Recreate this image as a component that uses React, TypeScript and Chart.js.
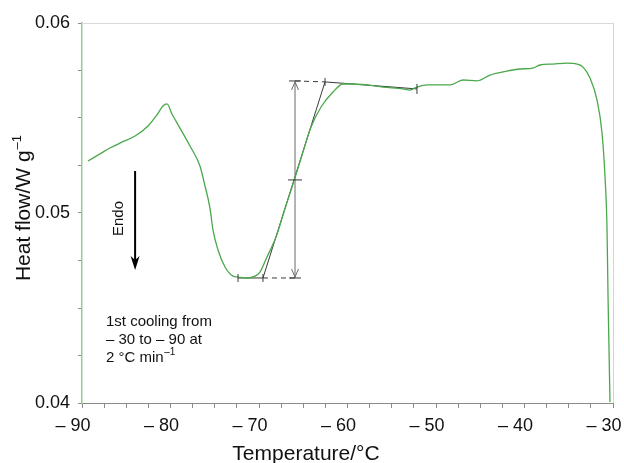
import React, { useEffect, useRef } from "react";
import { Chart, registerables } from "chart.js";

Chart.register(...registerables);

// Heat-flow curve (1st cooling)
const temperature = [
  -89.32, -87.97, -86.84, -85.71, -84.01, -82.54, -81.53, -80.85, -80.4, -79.83,
  -78.93, -77.8, -76.67, -76.1, -75.54, -75.2, -74.63, -73.84, -72.94,
  -72.37, -71.36, -70.45, -69.89, -69.1, -68.08, -67.11, -66.27, -65.31, -64.12,
  -62.99, -61.64, -60.51, -59.72, -57.8, -55.99, -53.73, -52.94, -52.37, -51.02,
  -48.42, -46.95, -45.37, -43.9, -41.98, -40.51, -39.04, -38.25, -36.78, -35.2,
  -34.07, -33.39, -32.6, -31.81, -31.24, -30.9, -30.68, -30.56, -30.45, -30.34,
];
const heatFlow = [
  0.05274, 0.05311, 0.05342, 0.05368, 0.05405, 0.05458, 0.05516, 0.05563, 0.05574, 0.05521,
  0.05447, 0.05353, 0.05247, 0.05142, 0.05026, 0.04911, 0.04805, 0.04716, 0.04668,
  0.04663, 0.04658, 0.04668, 0.04689, 0.04768, 0.04874, 0.05016, 0.05137, 0.05279, 0.05453,
  0.05558, 0.05637, 0.05679, 0.05679, 0.05674, 0.05663, 0.05653, 0.05647, 0.05658, 0.05674,
  0.05674, 0.057, 0.05695, 0.05726, 0.05747, 0.05758, 0.05763, 0.05779, 0.05784, 0.05789,
  0.05784, 0.05768, 0.05711, 0.05595, 0.05421, 0.05189, 0.04926, 0.04558, 0.04279, 0.04005,
];

// Glass-transition construction
const topBaseX = [-65.93, -62.54, -52.15];
const topBaseY = [0.05695, 0.0569, 0.05653];
const bottomBaseX = [-72.37, -69.55, -65.93];
const bottomBaseY = [0.04658, 0.04658, 0.04658];
const tangentX = [-69.55, -62.54];
const tangentY = [0.04658, 0.0569];
const stepX = [-65.93, -65.93];
const stepY = [0.04658, 0.05695];
const midPointX = -65.93;
const midPointY = 0.05174;

// "Endo" arrow (data coordinates)
const endoArrowX = -84.0;
const endoArrowY = [0.05221, 0.047];

// Axis ticks
const xMin = -90, xMax = -30, xStep = 2.5, xLabelEvery = 10;
const yMin = 0.04, yMax = 0.06, yStep = 0.0025;

const FONT = "'Liberation Sans', Arial, Helvetica, sans-serif";

const pts = (xs: number[], ys: number[]) => xs.map((x, i) => ({ x, y: ys[i] }));

export default function App() {
  const ref = useRef<HTMLCanvasElement>(null);

  useEffect(() => {
    const canvas = ref.current!;
    const dark = "#3a3a3a";

    const annot = {
      id: "annot",
      beforeDatasetsDraw(chart: any) {
        const { ctx, chartArea: a } = chart;
        ctx.save();
        ctx.lineWidth = 1;
        ctx.strokeStyle = "#d9d9d9";
        ctx.beginPath();
        ctx.moveTo(a.left, a.top + 0.5);
        ctx.lineTo(a.right, a.top + 0.5);
        ctx.stroke();
        ctx.strokeStyle = "#c9dcc9";
        ctx.beginPath();
        ctx.moveTo(a.right + 0.5, a.top);
        ctx.lineTo(a.right + 0.5, a.bottom);
        ctx.stroke();
        ctx.restore();
      },
      afterDatasetsDraw(chart: any) {
        const { ctx } = chart;
        const xs = chart.scales.x, ys = chart.scales.y;
        const px = (v: number) => xs.getPixelForValue(v);
        const py = (v: number) => ys.getPixelForValue(v);
        ctx.save();

        // cross ticks
        ctx.strokeStyle = dark;
        ctx.lineWidth = 1;
        const hTick = (x: number, y: number, h: number) => {
          ctx.beginPath();
          ctx.moveTo(px(x) - h, py(y));
          ctx.lineTo(px(x) + h, py(y));
          ctx.stroke();
        };
        const vTick = (x: number, y: number, h: number) => {
          ctx.beginPath();
          ctx.moveTo(px(x), py(y) - h);
          ctx.lineTo(px(x), py(y) + h);
          ctx.stroke();
        };
        hTick(stepX[0], stepY[1], 6);
        hTick(midPointX, midPointY, 7);
        hTick(stepX[0], stepY[0], 6);
        vTick(topBaseX[1], topBaseY[1], 4);
        vTick(topBaseX[2], topBaseY[2], 5);
        vTick(bottomBaseX[0], bottomBaseY[0], 4);
        vTick(bottomBaseX[1], bottomBaseY[1], 4);

        // open arrowheads on the step arrow
        ctx.strokeStyle = "#6a6a6a";
        const sx = px(stepX[0]);
        const sTop = py(stepY[1]), sBot = py(stepY[0]);
        ctx.beginPath();
        ctx.moveTo(sx - 3.5, sTop + 9);
        ctx.lineTo(sx, sTop + 1);
        ctx.lineTo(sx + 3.5, sTop + 9);
        ctx.moveTo(sx - 3.5, sBot - 9);
        ctx.lineTo(sx, sBot - 1);
        ctx.lineTo(sx + 3.5, sBot - 9);
        ctx.stroke();

        // Endo arrow
        const ex = px(endoArrowX);
        const e0 = py(endoArrowY[0]), e1 = py(endoArrowY[1]);
        ctx.strokeStyle = "#000";
        ctx.fillStyle = "#000";
        ctx.lineWidth = 2;
        ctx.beginPath();
        ctx.moveTo(ex, e0);
        ctx.lineTo(ex, e1 - 8);
        ctx.stroke();
        ctx.beginPath();
        ctx.moveTo(ex, e1);
        ctx.lineTo(ex - 4.5, e1 - 14);
        ctx.lineTo(ex, e1 - 10);
        ctx.lineTo(ex + 4.5, e1 - 14);
        ctx.closePath();
        ctx.fill();

        ctx.fillStyle = "#111";
        // Endo label
        ctx.save();
        ctx.translate(ex - 12, (e0 + e1) / 2 - 2);
        ctx.rotate(-Math.PI / 2);
        ctx.font = `15px ${FONT}`;
        ctx.textAlign = "center";
        ctx.textBaseline = "alphabetic";
        ctx.fillText("Endo", 0, 0);
        ctx.restore();

        // condition note
        ctx.font = `15px ${FONT}`;
        ctx.textAlign = "left";
        ctx.textBaseline = "alphabetic";
        ctx.fillText("1st cooling from", 106, 326);
        ctx.fillText("\u2013 30 to \u2013 90 at", 106, 344);
        const l3 = "2 \u00B0C min";
        ctx.fillText(l3, 106, 362);
        const w3 = ctx.measureText(l3).width;
        ctx.font = `10px ${FONT}`;
        ctx.fillText("\u20131", 106 + w3 + 0.5, 355);

        // x title
        ctx.font = `21px ${FONT}`;
        ctx.textAlign = "center";
        ctx.fillText("Temperature/\u00B0C", 306, 460);

        // y title
        ctx.save();
        ctx.translate(30, 208);
        ctx.rotate(-Math.PI / 2);
        ctx.textAlign = "left";
        ctx.font = `21px ${FONT}`;
        const main = "Heat flow/W g";
        const wm = ctx.measureText(main).width;
        ctx.font = `13px ${FONT}`;
        const ws = ctx.measureText("\u20131").width;
        const total = wm + ws + 1;
        ctx.font = `21px ${FONT}`;
        ctx.fillText(main, -total / 2, 0);
        ctx.font = `13px ${FONT}`;
        ctx.fillText("\u20131", -total / 2 + wm + 1, -9);
        ctx.restore();

        ctx.restore();
      },
    };

    const chart = new Chart(canvas, {
      type: "line",
      data: {
        datasets: [
          {
            data: pts(temperature, heatFlow),
            borderColor: "#4aa84a",
            borderWidth: 1.3,
            pointRadius: 0,
            cubicInterpolationMode: "monotone",
          },
          {
            data: pts(topBaseX.slice(0, 2), topBaseY.slice(0, 2)),
            borderColor: dark,
            borderWidth: 1,
            borderDash: [5, 4],
            pointRadius: 0,
          },
          {
            data: pts(topBaseX.slice(1), topBaseY.slice(1)),
            borderColor: dark,
            borderWidth: 1,
            pointRadius: 0,
          },
          {
            data: pts(bottomBaseX.slice(0, 2), bottomBaseY.slice(0, 2)),
            borderColor: dark,
            borderWidth: 1,
            pointRadius: 0,
          },
          {
            data: pts(bottomBaseX.slice(1), bottomBaseY.slice(1)),
            borderColor: dark,
            borderWidth: 1,
            borderDash: [5, 4],
            pointRadius: 0,
          },
          {
            data: pts(tangentX, tangentY),
            borderColor: dark,
            borderWidth: 1,
            pointRadius: 0,
          },
          {
            data: pts(stepX, stepY),
            borderColor: "#6a6a6a",
            borderWidth: 1,
            pointRadius: 0,
          },
        ],
      } as any,
      options: {
        animation: false,
        responsive: false,
        maintainAspectRatio: false,
        devicePixelRatio: 1,
        layout: { padding: { left: 0, right: 11, top: 23, bottom: 0 } },
        plugins: { legend: { display: false }, tooltip: { enabled: false } },
        scales: {
          x: {
            type: "linear",
            min: xMin,
            max: xMax,
            afterFit: (s: any) => {
              s.height = 60;
              s.paddingLeft = 0;
              s.paddingRight = 0;
            },
            ticks: {
              stepSize: xStep,
              autoSkip: false,
              maxRotation: 0,
              labelOffset: -9,
              padding: 7,
              color: "#111",
              font: { size: 18, family: FONT },
              callback: (v: any) => {
                const n = Number(v);
                return Math.abs(Math.round(n * 100) % (xLabelEvery * 100)) === 0
                  ? "\u2013 " + Math.abs(Math.round(n))
                  : "";
              },
            },
            grid: { drawOnChartArea: false, drawTicks: true, tickLength: 5, color: "#8a8a8a" },
            border: { color: "#8a8a8a", width: 1 },
          },
          y: {
            type: "linear",
            min: yMin,
            max: yMax,
            afterFit: (s: any) => {
              s.width = 82;
              s.paddingTop = 0;
              s.paddingBottom = 0;
            },
            ticks: {
              stepSize: yStep,
              autoSkip: false,
              padding: 8,
              color: "#111",
              font: { size: 18, family: FONT },
              callback: (v: any) => {
                const n = Math.round(Number(v) * 10000);
                return n % 100 === 0 ? (n / 10000).toFixed(2) : "";
              },
            },
            grid: { drawOnChartArea: false, drawTicks: true, tickLength: 4, color: "#8a8a8a" },
            border: { color: "#8fd08f", width: 1.5 },
          },
        },
      } as any,
      plugins: [annot],
    });
    return () => chart.destroy();
  }, []);

  return (
    <div style={{ position: "fixed", left: 0, top: 0, width: 624, height: 463, background: "#fff" }}>
      <canvas ref={ref} width={624} height={463} style={{ display: "block" }} />
    </div>
  );
}
